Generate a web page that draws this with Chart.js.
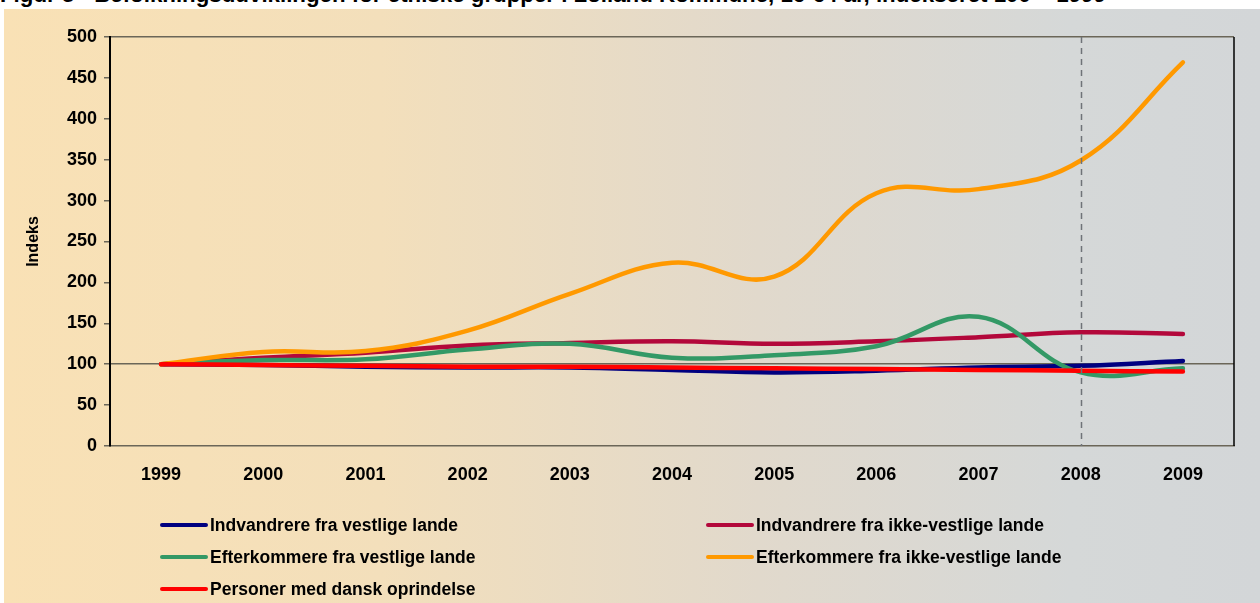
<!DOCTYPE html>
<html>
<head>
<meta charset="utf-8">
<script src="https://cdn.jsdelivr.net/npm/chart.js@4.4.1/dist/chart.umd.min.js"></script>
<style>
  html, body { margin: 0; padding: 0; background: #ffffff; overflow: hidden; }
  #wrap { position: relative; width: 1260px; height: 603px; }
  #title {
    position: absolute; left: 0; top: -18px; white-space: nowrap; line-height: 22px;
    font: bold 22.3px "Liberation Sans", Arial, sans-serif; color: #000;
  }
  #box {
    position: absolute; left: 4px; top: 9px; width: 1256px; height: 594px;
    background: linear-gradient(to right, #f9e1b5 0%, #f3dfbb 30%, #e1d9cc 60%, #d5d8d8 85%, #d3d6d8 100%);
  }
  #chart { position: absolute; left: 0; top: 0; }
  .leg {
    position: absolute; height: 20px; line-height: 20px; white-space: nowrap;
    font: bold 17.5px "Liberation Sans", Arial, sans-serif; color: #000;
  }
  .leg span.sw {
    display: inline-block; width: 48px; height: 4px; border-radius: 2px;
    vertical-align: middle; margin-right: 2px; position: relative; top: -1px;
  }
</style>
</head>
<body>
<div id="wrap">
  <div id="title">Figur 5 - Befolkningsudviklingen for etniske grupper i Lolland Kommune, 16-64 år, indekseret 100 = 1999</div>
  <div id="box"></div>
  <canvas id="chart" width="1260" height="603"></canvas>
  <div id="legend"></div>
</div>
<script>
// Data (indeks 1999 = 100)
const years = ["1999", "2000", "2001", "2002", "2003", "2004", "2005", "2006", "2007", "2008", "2009"];
const yTicks = [0, 50, 100, 150, 200, 250, 300, 350, 400, 450, 500];

const indvVestlige = [100, 99, 97, 96, 96, 93, 90, 92, 96, 98, 104];
const indvIkkeVestlige = [100, 108, 114, 123, 126, 128, 125, 128, 133, 139, 137];
const efterVestlige = [100, 105, 106, 118, 125, 108, 111, 122, 158, 90, 95];
const efterIkkeVestlige = [100, 115, 116, 141, 186, 224, 207, 309, 314, 349, 469];
const danskOprindelse = [100, 99, 98, 97, 97, 96, 95, 94, 93, 92, 91];

const seriesNames = [
    "Indvandrere fra vestlige lande",
    "Indvandrere fra ikke-vestlige lande",
    "Efterkommere fra vestlige lande",
    "Efterkommere fra ikke-vestlige lande",
    "Personer med dansk oprindelse",
];
const seriesColors = ["#000080", "#b3083b", "#339966", "#ff9900", "#ff0000"];
const seriesData = [indvVestlige, indvIkkeVestlige, efterVestlige, efterIkkeVestlige, danskOprindelse];
// tegnerækkefølge: lavere order = øverst
const seriesOrder = [4, 3, 2, 1, 0];

const markerYear = "2008";

const FONT = "'Liberation Sans', Arial, sans-serif";

// Ramme til højre og stiplet linje ved 2008
const framePlugin = {
    id: "frame",
    afterDatasetsDraw(chart) {
        const { ctx, chartArea, scales } = chart;
        ctx.save();
        ctx.strokeStyle = "#000";
        ctx.lineWidth = 1.5;
        ctx.beginPath();
        ctx.moveTo(chartArea.right, chartArea.top);
        ctx.lineTo(chartArea.right, chartArea.bottom);
        ctx.stroke();

        const x = Math.round(scales.x.getPixelForValue(years.indexOf(markerYear))) + 0.5;
        ctx.strokeStyle = "#6f7378";
        ctx.lineWidth = 1.5;
        ctx.setLineDash([6, 5]);
        ctx.beginPath();
        ctx.moveTo(x, chartArea.top);
        ctx.lineTo(x, chartArea.bottom);
        ctx.stroke();
        ctx.restore();
    },
};

const datasets = seriesNames.map(function (name, i) {
    return {
        label: name,
        data: seriesData[i],
        borderColor: seriesColors[i],
        backgroundColor: seriesColors[i],
        borderWidth: 4.5,
        borderCapStyle: "round",
        pointRadius: 0,
        tension: 0.4,
        order: seriesOrder[i],
        clip: false,
    };
});

new Chart(document.getElementById("chart"), {
    type: "line",
    data: { labels: years, datasets: datasets },
    options: {
        responsive: false,
        animation: false,
        events: [],
        layout: { padding: { left: 0, top: 37, right: 26, bottom: 0 } },
        plugins: {
            legend: { display: false },
            tooltip: { enabled: false },
        },
        scales: {
            x: {
                offset: true,
                grid: { display: false, drawTicks: false, offset: true },
                border: { display: true, color: "#6b6658", width: 1.5 },
                ticks: {
                    color: "#000",
                    padding: 18,
                    font: { family: FONT, size: 18, weight: "bold" },
                },
                afterFit(scale) { scale.height = 157; },
            },
            y: {
                min: 0,
                max: 500,
                afterBuildTicks(scale) {
                    scale.ticks = yTicks.map(function (v) { return { value: v }; });
                },
                grid: {
                    drawTicks: true,
                    tickLength: 6,
                    tickColor: "#6b6658",
                    tickWidth: 1.5,
                    lineWidth: 1.5,
                    color(c) {
                        if (c.tick && (c.tick.value === 100 || c.tick.value === 500)) return "#6b6658";
                        return "rgba(0,0,0,0)";
                    },
                },
                border: { display: true, color: "#000", width: 2 },
                ticks: {
                    color: "#000",
                    padding: 7,
                    font: { family: FONT, size: 18, weight: "bold" },
                },
                title: {
                    display: true,
                    text: "Indeks",
                    color: "#000",
                    padding: { top: 24, bottom: 0 },
                    font: { family: FONT, size: 16, weight: "bold" },
                },
                afterFit(scale) { scale.width = 110; },
            },
        },
    },
    plugins: [framePlugin],
});

// Forklaring i to kolonner som i originalen
const legendPos = [
    { left: 160, top: 515 },
    { left: 706, top: 515 },
    { left: 160, top: 547 },
    { left: 706, top: 547 },
    { left: 160, top: 579 },
];
const legendEl = document.getElementById("legend");
seriesNames.forEach(function (name, i) {
    const item = document.createElement("div");
    item.className = "leg";
    item.style.left = legendPos[i].left + "px";
    item.style.top = legendPos[i].top + "px";
    item.innerHTML = '<span class="sw" style="background:' + seriesColors[i] + '"></span>' + name;
    legendEl.appendChild(item);
});
</script>
</body>
</html>
